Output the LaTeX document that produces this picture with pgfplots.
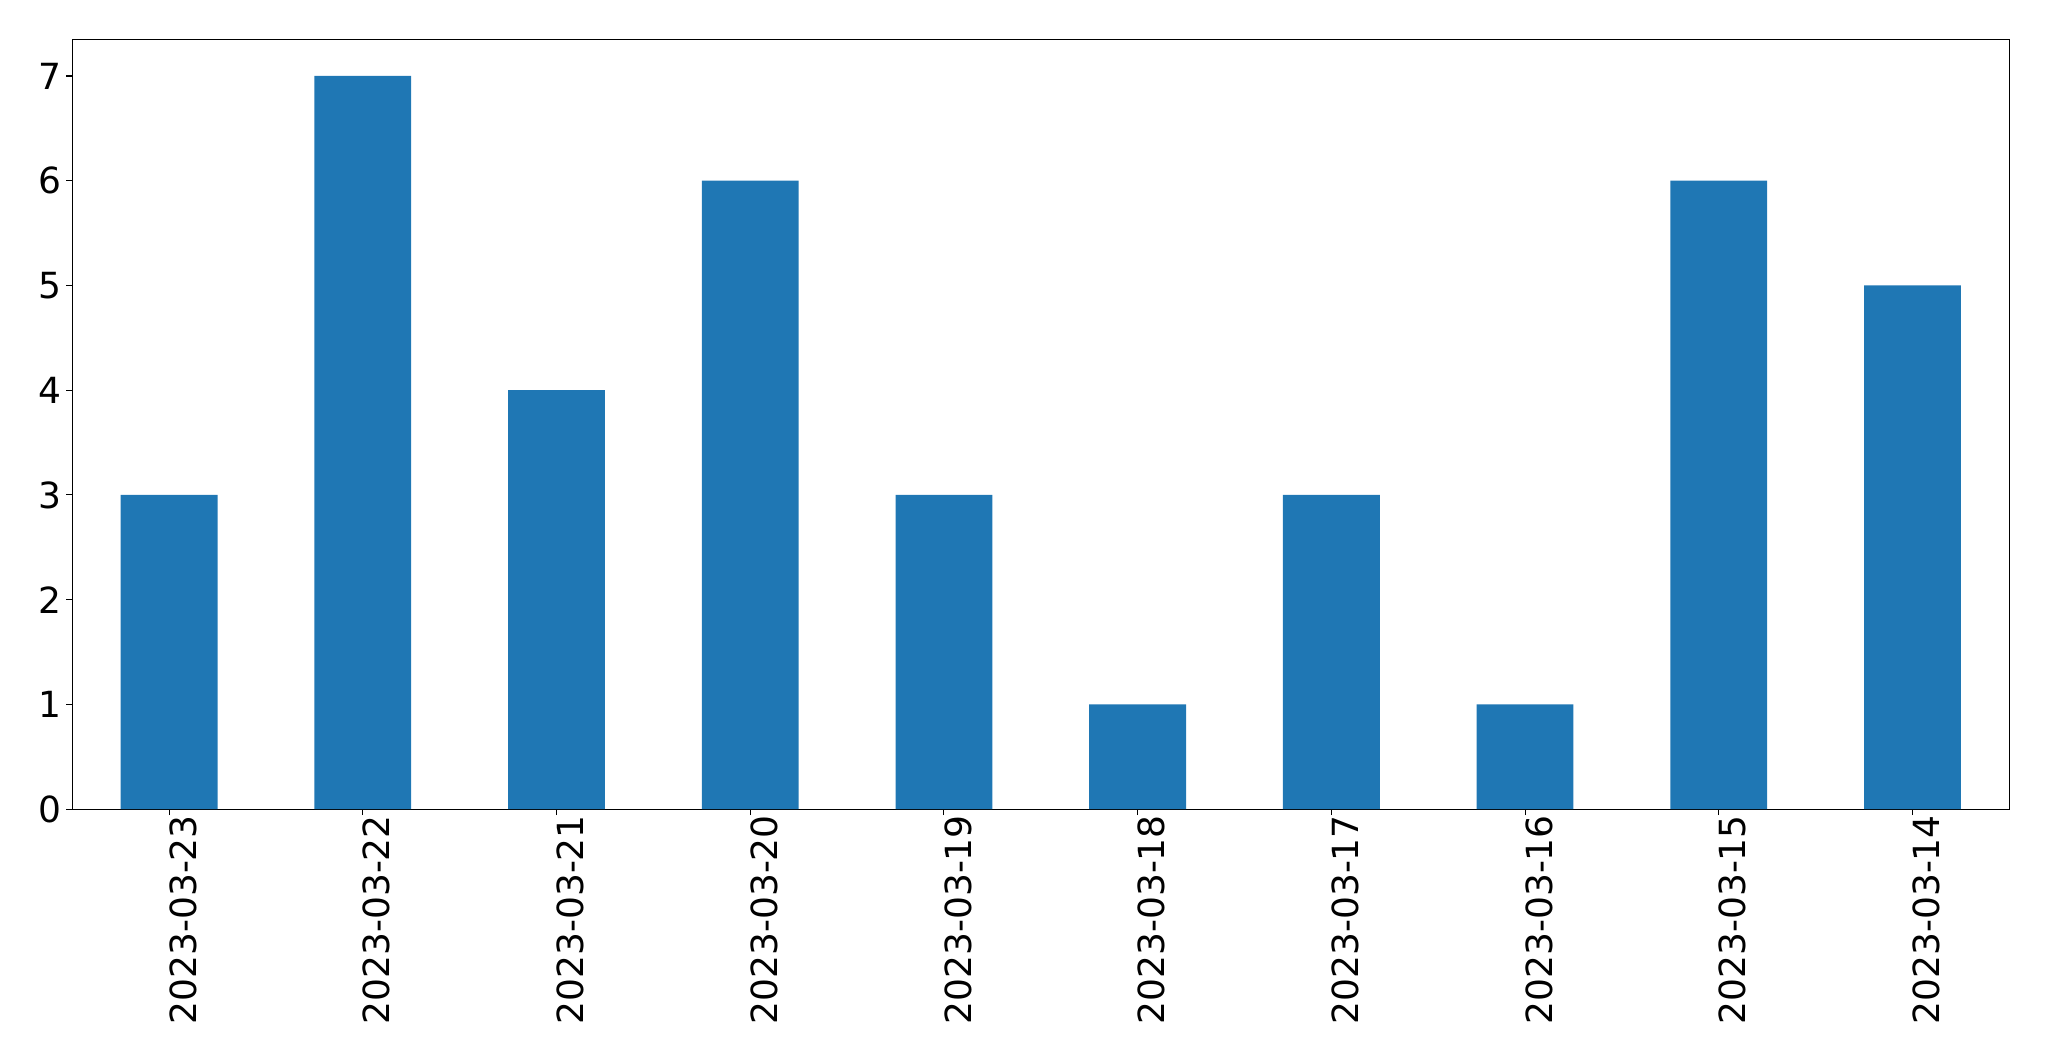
\documentclass[border=0pt]{standalone}
\usepackage{pgfplots}
\pgfplotsset{compat=1.18}
\usepackage{fontspec}
\setmainfont{DejaVu Sans}
\definecolor{mplblue}{HTML}{1F77B4}
\begin{document}
\begin{tikzpicture}
\begin{axis}[
  width=968.5pt, height=384.9pt,
  scale only axis,
  clip=false,
  xmin=-0.5, xmax=9.5,
  ymin=0, ymax=7.35,
  xtick={0,...,9},
  xticklabels={2023-03-23,2023-03-22,2023-03-21,2023-03-20,2023-03-19,2023-03-18,2023-03-17,2023-03-16,2023-03-15,2023-03-14},
  ytick={0,1,2,3,4,5,6,7},
  tick align=outside,
  major tick length=3pt,
  xtick pos=bottom, ytick pos=left,
  axis line style={line width=0.55pt},
  every tick/.style={line width=0.55pt, black},
  /pgf/number format/assume math mode=true,
  tick label style={font=\fontsize{18}{21}\selectfont},
  xticklabel style={rotate=90, anchor=east, inner sep=0pt, outer sep=0pt, yshift=-7pt},
  yticklabel style={anchor=east, inner sep=0pt, outer sep=0pt, xshift=-2.3pt},
]
\addplot[ybar, bar width=0.5, fill=mplblue, draw=none] coordinates {
  (0,3) (1,7) (2,4) (3,6) (4,3) (5,1) (6,3) (7,1) (8,6) (9,5)
};
\path (rel axis cs:-0.0373,-0.3274) rectangle (rel axis cs:1.0205,1.0511);
\end{axis}
\end{tikzpicture}
\end{document}
